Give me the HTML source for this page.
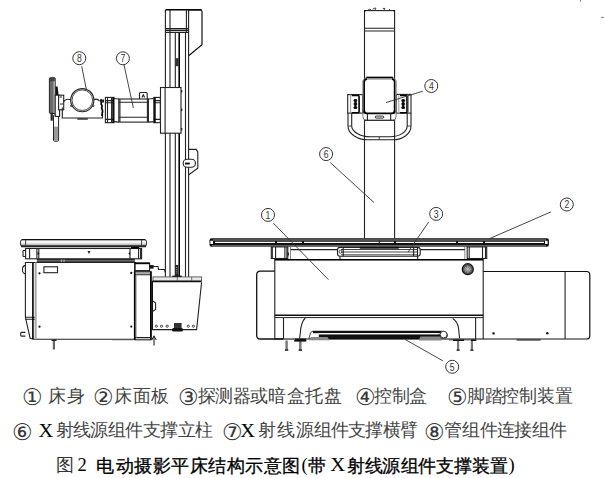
<!DOCTYPE html>
<html><head><meta charset="utf-8">
<style>
html,body{margin:0;padding:0;background:#fff;}
body{width:604px;height:478px;overflow:hidden;position:relative;}
svg{position:absolute;left:0;top:0;}
.l{fill:none;stroke:#222;stroke-width:1.1;}
.t{fill:none;stroke:#333;stroke-width:0.9;}
.k{fill:none;stroke:#000;stroke-width:1.6;}
.cap text{font-family:"Liberation Serif",serif;}
.cj{font-size:17.5px;fill:#444;}
.cj2{font-size:18px;fill:#333;}
.cd{font-size:22.5px;fill:#3a3a3a;}
.lat{font-size:18.5px;fill:#000;}
.ttl{font-size:18px;fill:#000;stroke:#000;stroke-width:0.3px;}
.num{font-family:"Liberation Sans",sans-serif;font-size:10.5px;fill:#333;text-anchor:middle;}
.lc{fill:none;stroke:#333;stroke-width:1;}
</style></head>
<body>
<svg width="604" height="478" viewBox="0 0 604 478">
<!-- ================= LEFT MACHINE (side view) ================= -->
<g id="leftcol">
  <!-- column verticals -->
  <path class="l" d="M165.4,10 V277 M170,10 V277 M175.3,32 V277 M185.5,32 V277 M188.6,10 V277"/>
  <path class="k" d="M179.2,32 V277"/>
  <!-- top housing -->
  <path class="k" d="M165.5,9.8 H201.5"/>
  <path class="l" d="M186.4,10 V32.4 M165.4,28.6 H188.6 M165.4,30.4 H188.6 M165.4,32.4 H188.6"/>
  <path d="M188.6,10 H200.5 Q202,10 202,11.5 V44.6 L189,55.5" fill="none" stroke="#111" stroke-width="1.2"/>
  <!-- slot piece -->
  <rect x="175.4" y="58.2" width="3.4" height="8" fill="#333"/>
  <!-- side bracket on column -->
  <path class="l" d="M188.6,149.4 H196.3 L197.8,152.2 V168.2 L188.8,174.8"/>
  <rect x="183.2" y="159.3" width="12.2" height="8" rx="3.8" class="l" style="fill:#fff"/>
  <rect x="185" y="162.6" width="4.8" height="1.9" fill="#111"/>
  <!-- carriage -->
  <rect x="160.5" y="87.5" width="20.5" height="45.7" class="l" style="fill:#fff"/>
  <path class="l" d="M165.1,87.5 V133.2"/>
  <rect x="181" y="90" width="1.3" height="2.5" fill="#222"/>
  <rect x="181" y="108.5" width="1.3" height="2.5" fill="#222"/>
  <rect x="181" y="128" width="1.3" height="2.5" fill="#222"/>
</g>
<g id="arm">
  <!-- left flange -->
  <rect x="105.4" y="97.4" width="8.6" height="25.3" class="l" style="fill:#fff"/>
  <path class="l" d="M107.5,97.4 V122.7 M111.6,97.4 V122.7 M105.4,100.6 H114 M105.4,102.8 H114 M105.4,119.4 H114"/>
  <path class="k" d="M113.1,97.4 V122.7"/>
  <!-- necks -->
  <path class="l" d="M114,98.5 Q116,98.5 118.8,99 M114,121.6 Q116,121.6 118.8,122.1 M148.4,99 Q151,98.5 153.8,98.5 M148.4,122.1 Q151,121.6 153.8,121.6"/>
  <!-- body -->
  <rect x="118.8" y="99" width="29.6" height="23.1" class="l" style="fill:#fff"/>
  <path class="l" d="M118.8,102.2 H148.4 M118.8,117.3 H148.4 M119.9,99 V122.1 M147.4,99 V122.1"/>
  <!-- right flange -->
  <rect x="153.8" y="97.4" width="6.5" height="25.3" class="l" style="fill:#fff"/>
  <path class="l" d="M153.8,100.6 H160.3 M153.8,102.8 H160.3 M153.8,119.4 H160.3"/>
  <path class="k" d="M154.9,97.4 V122.7"/>
  <!-- small box on top -->
  <path class="l" d="M139.5,99 V93.5 Q139.5,92.5 140.5,92.5 H146.2 Q147.2,92.5 147.2,93.5 V99"/>
  <path class="l" d="M142,97.5 L143.3,94.8 L144.6,97.5"/>
</g>
<g id="tube">
  <!-- collimator plate -->
  <rect x="49.4" y="77.7" width="5.8" height="35.8" rx="1" fill="#6a6a6a" stroke="#222" stroke-width="1"/>
  <rect x="53.4" y="79" width="1.7" height="34" fill="#aaa"/>
  <rect x="49.8" y="78" width="5" height="3.2" fill="#444"/>
  <path d="M55.4,86.4 H57.6 L58.6,95.2 H55.4 Z" fill="#111"/>
  <rect x="50.6" y="112.7" width="2.2" height="8" fill="#222"/>
  <!-- handle below -->
  <rect x="53.5" y="114.9" width="5.1" height="26.3" rx="1" fill="#fff" stroke="#222" stroke-width="1"/>
  <rect x="54" y="126.6" width="4.1" height="14" fill="#999"/>
  <!-- left block -->
  <rect x="55.2" y="95.2" width="4.4" height="21.2" class="l" style="fill:#fff"/>
  <rect x="58.6" y="95.2" width="5.1" height="14.6" class="l" style="fill:#fff"/>
  <path class="l" d="M59.6,97 H62 M60,104 H63"/>
  <!-- bracket -->
  <path class="l" d="M62.3,107.5 V118 H102.4 V113.9"/>
  <rect x="77.3" y="118" width="10.5" height="1.8" fill="#444"/>
  <!-- tube circle -->
  <circle cx="82.3" cy="100.2" r="11.6" class="l"/>
  <circle cx="82.3" cy="100.2" r="10.3" class="t"/>
  <!-- ears -->
  <path class="l" d="M63.7,101.6 Q66,98 70.6,99.8 M94,99.8 Q97,98 99.6,101.1"/>
  <circle cx="71.4" cy="105.7" r="0.9" class="t"/>
  <circle cx="93.2" cy="105.7" r="0.9" class="t"/>
  <!-- right squiggle -->
  <path class="k" d="M100.5,99.5 Q102.5,101 101,104 Q103,106 101.5,108 Q103.5,111 102,114 V116" stroke-width="1.3"/>
  <rect x="100" y="99.5" width="4" height="3" fill="#222"/>
</g>
<g id="labelsL">
  <circle cx="79.3" cy="58.2" r="6.5" class="lc"/>
  <text transform="translate(79.3,62.0) scale(0.82,1)" class="num">8</text>
  <path class="t" d="M81.7,66.2 L86.5,90.3"/>
  <circle cx="122.9" cy="58.3" r="6.5" class="lc"/>
  <text transform="translate(122.9,62.1) scale(0.82,1)" class="num">7</text>
  <path class="t" d="M124,64.9 L133.4,108"/>
</g>
<g id="leftbase">
  <defs>
    <linearGradient id="tg" x1="0" y1="0" x2="0" y2="1">
      <stop offset="0" stop-color="#fff"/><stop offset="0.45" stop-color="#f2f2f2"/><stop offset="1" stop-color="#8a8a8a"/>
    </linearGradient>
  </defs>
  <!-- table top -->
  <path d="M22.5,239.5 H144.5 Q146.7,239.5 146.7,243 Q146.7,246.6 144.5,246.6 H22.5 Q20.3,246.6 20.3,243 Q20.3,239.5 22.5,239.5 Z" fill="url(#tg)" stroke="#222" stroke-width="0.9"/>
  <path d="M21.5,239.8 H145.5" stroke="#000" stroke-width="1" fill="none"/>
  <rect x="21" y="245.3" width="125" height="1.9" fill="#222"/>
  <path class="t" d="M25.6,240 V246 M141.6,240 V246"/>
  <!-- sub frame -->
  <rect x="25.6" y="248.5" width="116" height="10.3" class="l" style="fill:#fff"/>
  <path class="k" d="M131,247.7 H139" stroke-width="1.4"/>
  <path class="l" d="M29.6,248.5 V258.8 M36.9,248.5 V258.8 M38.8,248.5 V258.8 M130,248.5 V258.8 M138.6,248.5 V258.8 M140.6,248.5 V258.8"/>
  <path class="l" d="M23,250.5 H25.6 M23,256.5 H25.6 M23,250.5 V256.5"/>
  <path d="M37.5,252 L39.5,253.5 L37.5,255 Z M130,252 L128.3,253.5 L130,255 Z" fill="#111"/>
  <path d="M87.5,251 L89,254 L90.5,251 Z" fill="#222"/>
  <!-- dark band -->
  <rect x="36.9" y="259.4" width="98" height="2.4" fill="#666"/>
  <path d="M36.9,259.4 H134.8 M36.9,261.9 H134.8" stroke="#111" stroke-width="0.9" fill="none"/>
  <path d="M61.4,259.4 V262 M64,259.4 V262" stroke="#fff" stroke-width="0.6"/>
  <!-- base body -->
  <path class="l" d="M25.4,262.5 H135.1 V339.3 H33.9" style="fill:#fff"/>
  <path class="k" d="M135.1,262 V339.5" stroke-width="1.3"/>
  <!-- left end panel -->
  <path class="l" d="M33.9,262.5 H25.4 V317.3 L30.1,338.2 L33.9,339.3"/>
  <path class="l" d="M25.4,317.3 H35.8 M25.4,319.2 H35.8"/>
  <rect x="34.6" y="262.5" width="2.1" height="76.8" fill="#aaa"/>
  <path class="k" d="M32.9,262.5 V339.3" stroke-width="1.1"/>
  <path class="l" d="M25.4,265.4 Q22.3,266 22.5,269.6 Q22.3,273.3 25.4,273.9"/>
  <path class="l" d="M25.4,332.4 H21.5 Q20.7,332.4 20.7,333.4 V335.1 Q20.7,336.1 21.5,336.1 H25.4"/>
  <!-- label rect + dots -->
  <rect x="43.9" y="266.8" width="13.6" height="5.9" class="l"/>
  <circle cx="39.5" cy="273.3" r="1.1" fill="#111"/>
  <circle cx="39.5" cy="326.7" r="1.1" fill="#111"/>
  <circle cx="131.3" cy="272.9" r="1.1" fill="#111"/>
  <circle cx="131.3" cy="326.6" r="1.1" fill="#111"/>
  <!-- small box + cable -->
  <rect x="135.1" y="263" width="14.5" height="7.6" class="l" style="fill:#fff"/>
  <path class="k" d="M135.1,263.4 H149.6" stroke-width="1.2"/>
  <rect x="149.6" y="265.1" width="4" height="3.5" fill="#111"/>
  <path class="l" d="M153,266.5 H158 L158.5,269.5 H164.5 L165.4,272.5"/>
  <!-- right end panel -->
  <rect x="134.7" y="271.5" width="16.2" height="68.3" class="l" style="fill:#fff"/>
  <rect x="135.2" y="271.8" width="15.2" height="2" fill="#999"/>
  <path class="l" d="M134.7,274.7 H150.9 M134.7,337.6 H150.9"/>
  <path d="M136.2,274.7 V337.6" stroke="#999" stroke-width="0.9"/>
  <path class="k" d="M134.7,271.5 V339.8 M150.9,271.5 V339.8" stroke-width="1.2"/>
  <!-- feet -->
  <rect x="52.8" y="340" width="2.2" height="9.5" fill="#666"/>
  <rect x="51.5" y="339.5" width="5" height="1.5" fill="#222"/>
  <path class="l" d="M154,337 V345.5"/>
  <path d="M151.8,340 L154,335.8 L156.2,340" fill="none" stroke="#111" stroke-width="1"/>
  <path d="M112,339.8 H133" stroke="#555" stroke-width="0.8"/>
  <!-- column base -->
  <rect x="153" y="276.9" width="48.6" height="4" fill="#e8e8e8" stroke="#555" stroke-width="0.9"/>
  <path d="M152,281.6 H201.6" stroke="#111" stroke-width="1.5" fill="none"/>
  <path d="M177.3,277 V281 M191.7,277 V281" stroke="#555" stroke-width="0.8" fill="none"/>
  <path class="l" d="M152.3,281 V329.6 H196.6 L201.6,282.3"/>
  <path d="M152.3,281 V329.6" stroke="#111" stroke-width="1.3" fill="none"/>
  <path class="l" d="M152.5,300.6 L155.6,303 V309.5 L152.5,311.6"/>
  <rect x="175.3" y="265" width="3" height="11" fill="#222"/>
  <path d="M176.8,267 V274" stroke="#fff" stroke-width="0.8" stroke-dasharray="1 1.2"/>
  <rect x="172.3" y="275.6" width="9.5" height="1.4" fill="#222"/>
  <circle cx="156.4" cy="326.2" r="1.1" class="t"/>
  <circle cx="161.5" cy="326.2" r="1.1" class="t"/>
  <circle cx="167.2" cy="326.2" r="1.1" class="t"/>
  <circle cx="188.3" cy="326.2" r="1.1" class="t"/>
  <circle cx="193.4" cy="326.2" r="1.1" class="t"/>
  <rect x="174" y="323" width="7.6" height="5" fill="#333"/>
  <rect x="172" y="328" width="11" height="3.5" rx="1.5" fill="#111"/>
</g>

<!-- ================= RIGHT MACHINE (front view) ================= -->
<g id="rcol">
  <path class="l" d="M364.5,10.4 V238.5 M394.6,10.4 V238.5"/>
  <path class="l" d="M364.5,10.6 H394.6" stroke-width="1.2"/>
  <path d="M364,10 H366.5 L364,12.5 Z M395,10 H392.5 L395,12.5 Z" fill="#111"/>
  <path class="l" d="M364.5,28.3 H394.6 M364.5,31 H394.6" stroke-width="1.2"/>
  <path class="t" d="M368,10 Q369.5,8.8 371,9.6 M372.5,9.6 L374,8.2 H376 L375,10 M382.8,8.4 H385 L384,10 M389,10 L390,9.2"/>
</g>
<g id="ctrl">
  <!-- handle -->
  <path class="l" d="M348,113 V126 C348,133.5 357,139.8 368,139.8 H392.7 C403,139.8 411,133.5 411,126 V113"/>
  <path class="l" d="M351.7,113 V126 C351.7,131.5 360,136.7 370.3,136.7 H390.2 C400,136.7 407.2,131.5 407.2,126 V113"/>
  <path class="t" d="M348,126 H351.7 M407.2,126 H411 M379.3,136.7 V139.8"/>
  <!-- side blocks -->
  <rect x="347.7" y="94.6" width="15" height="18.5" class="l" style="fill:#fff"/>
  <path d="M350.6,94.8 V113" stroke="#999" stroke-width="1" fill="none"/>
  <path class="k" d="M351.8,95.5 H358 Q359.1,95.5 359.1,97 V111.5 Q359.1,112.8 358,112.8 H351.8" stroke-width="1.2"/>
  <rect x="396.3" y="94.4" width="14.7" height="18.7" class="l" style="fill:#fff"/>
  <path d="M398.8,95.5 V112.5" stroke="#999" stroke-width="1" fill="none"/>
  <path class="k" d="M407,95.5 H400 M407,112.8 H400 M407,95.5 V112.8" stroke-width="1.1"/>
  <path d="M408.4,94.6 V113" stroke="#888" stroke-width="1" fill="none"/>
  <g fill="#111">
    <ellipse cx="355.4" cy="100.5" rx="1.9" ry="1.6"/><ellipse cx="355.4" cy="104" rx="1.9" ry="1.8"/><ellipse cx="355.4" cy="107.5" rx="1.9" ry="1.6"/>
    <rect x="354.4" y="99.1" width="2" height="9.9"/>
    <ellipse cx="403.2" cy="100.5" rx="1.9" ry="1.6"/><ellipse cx="403.2" cy="104" rx="1.9" ry="1.8"/><ellipse cx="403.2" cy="107.5" rx="1.9" ry="1.6"/>
    <rect x="402.2" y="99.3" width="2" height="9.5"/>
  </g>
  <!-- box -->
  <path d="M366.5,77.2 H392.8 L396.1,80.5 V116.5 Q396.1,120.3 392.5,120.3 H366.5 Q362.9,120.3 362.9,116.5 V80.5 Z" fill="#fff" stroke="#777" stroke-width="1"/>
  <path class="k" d="M366.3,77.6 H392.8" stroke-width="1.5"/>
  <path d="M366.3,79.1 H392.8" stroke="#888" stroke-width="1" fill="none"/>
  <path class="k" d="M364.2,113.4 V82 Q364.2,79.1 367,79.1 M394.6,113.4 V82 Q394.6,79.1 392,79.1" stroke-width="1.2"/>
  <path class="k" d="M364.2,110.5 Q364.2,113.4 367,113.4 H392 Q394.6,113.4 394.6,110.5" stroke-width="1.4"/>
  <path class="l" d="M367.4,113.4 V120.3 M390.7,113.4 V120.3"/>
  <path class="l" d="M365,120.3 H394.2"/>
  <rect x="375.2" y="116.1" width="8.6" height="2" rx="1" fill="#fff" stroke="#111" stroke-width="0.9"/>
</g>
<g id="rtable">
  <!-- table top -->
  <rect x="209.5" y="238.2" width="339.4" height="8.6" rx="2" fill="#111"/>
  <rect x="212" y="245.2" width="334" height="1.5" fill="#777"/>
  <path d="M213,240 H546" stroke="#ccc" stroke-width="0.7" fill="none"/>
  <path d="M215,242.4 H544" stroke="#fff" stroke-width="1.1" fill="none" stroke-dasharray="60 2 25 2 90 2"/>
  <rect x="210.4" y="240.8" width="2.6" height="3.2" fill="#fff"/>
  <rect x="545" y="240.8" width="2.6" height="3.2" fill="#fff"/>
  <path d="M379.2,240.5 V244" stroke="#111" stroke-width="0.9"/>
  <!-- blocks under table -->
  <rect x="271.3" y="246.9" width="16.5" height="11.6" class="l" style="fill:#fff"/>
  <path class="l" d="M272.3,246.9 V258.5 M275.6,246.9 V258.5 M284.9,246.9 V258.5 M286.9,246.9 V258.5"/>
  <rect x="287.6" y="252.5" width="1.3" height="3" fill="#222"/>
  <rect x="467.2" y="246.9" width="19.5" height="11.6" class="l" style="fill:#fff"/>
  <path class="l" d="M469.2,246.9 V258.5 M482.5,246.9 V258.5 M485.5,246.9 V258.5"/>
  <path d="M290.5,247 V259.8 M464.8,247 V259.8" stroke="#888" stroke-width="1" fill="none"/>
  <path class="l" d="M290.8,249.6 H464.8"/>
  <!-- tray 3 -->
  <rect x="337.5" y="247.4" width="82.7" height="8.8" rx="2.5" class="l" style="fill:#fff"/>
  <rect x="359.8" y="246.8" width="38.9" height="1.9" fill="#111"/>
  <path class="t" d="M341,249.5 H417 M341,252 H417 M341,254.8 H417"/>
  <path class="l" d="M343.2,247.4 V256.2 M413.6,247.4 V256.2 M417.5,247.4 V256.2"/>
  <circle cx="340.5" cy="251.7" r="1.5" class="t"/>
  <path class="l" d="M340,256.2 V260 M417.7,256.2 V260"/>
  <!-- body -->
  <rect x="274.8" y="259.6" width="208.4" height="79.4" class="l" style="fill:#fff"/>
  <path class="k" d="M274.8,259.8 H483.2" stroke-width="1.3"/>
  <path d="M274.8,315.2 H483.2" stroke="#111" stroke-width="1.4"/><path d="M274.8,317.6 H483.2" stroke="#222" stroke-width="1"/>
  <!-- left bump -->
  <path d="M274.8,271.2 H260.5 Q256.7,271.2 256.7,275 V335.2 Q256.7,339 260.5,339 H283.4" fill="none" stroke="#111" stroke-width="1.3"/>
  <!-- right box -->
  <path d="M483.2,271.5 H586.5 Q589.8,271.5 589.8,274.8 V335.7 Q589.8,339 586.5,339 H483.2" fill="none" stroke="#111" stroke-width="1.2"/>
  <path class="l" d="M565.1,271.5 V339"/>
  <rect x="492.4" y="332.3" width="2.2" height="2.2" fill="#111"/>
  <circle cx="547.3" cy="333.3" r="1.2" fill="#111"/>
  <rect x="516.6" y="339.3" width="24" height="1.3" fill="#333"/>
  <!-- knob -->
  <circle cx="467.8" cy="269.2" r="5.5" fill="#555" stroke="#111" stroke-width="1.2"/>
  <circle cx="467.8" cy="269.2" r="3.2" fill="#777"/>
  <path d="M465,267 L470.5,271.5 M470.5,267 L465,271.5 M467.8,265.5 V273 M464,269.2 H471.6" stroke="#ccc" stroke-width="0.6"/>
  <!-- lower details -->
  <path class="l" d="M283.5,318 V339.5 M475.6,318 V339"/>
  <path class="l" d="M305.3,318 Q301,322 300.3,333 L299.6,338.4"/>
  <path class="l" d="M452.7,318.4 Q457.3,321 458.5,328 L459.6,338.4"/>
  <!-- pedal 5 -->
  <path d="M308.9,338.4 L310.5,333 Q311.3,331.2 313,331.2 H441 Q444,331 446.5,333 Q448.3,335 447,337.2 Q445.5,338.6 443,338.4 Z" fill="#fff" stroke="#333" stroke-width="0.9"/>
  <rect x="313" y="331" width="128" height="2.2" fill="#111"/>
  <rect x="318.8" y="334.3" width="122" height="4.9" fill="#111"/>
  <path d="M318.8,333.7 H438" stroke="#fff" stroke-width="1" fill="none"/>
  <path d="M309,340.3 L311,336.9 H327.5 L329.5,340.3 Z" fill="#888"/>
  <path d="M419,339.4 L420.5,336.5 H440 L441.7,340.4 H419 Z" fill="#888"/>
  <circle cx="443.6" cy="334.6" r="3.4" fill="#fff" stroke="#222" stroke-width="0.9"/>
  <rect x="295" y="338.6" width="11" height="2.2" fill="#111"/>
  <rect x="449" y="339.2" width="27" height="1.2" fill="#555"/>
  <!-- legs -->
  <g fill="#777">
    <rect x="285.4" y="340.5" width="2.4" height="10"/><rect x="299.1" y="340.5" width="2.4" height="10"/>
    <rect x="457" y="340.5" width="2.2" height="10"/><rect x="470.8" y="340.5" width="2.2" height="10"/>
  </g>
  <g fill="#111">
    <rect x="283.4" y="339" width="11" height="1" fill="#777"/><rect x="294.3" y="339.8" width="12" height="1.8"/>
    <rect x="453" y="339.5" width="11" height="1.5"/><rect x="471" y="339.5" width="5.4" height="1.5"/>
    <rect x="284.9" y="349.4" width="3.4" height="1.3"/><rect x="298.6" y="349.4" width="3.4" height="1.3"/>
    <rect x="456.5" y="349.5" width="3.2" height="1.2"/><rect x="470.3" y="349.5" width="3.2" height="1.2"/>
  </g>
</g>
<g id="labelsR">
  <circle cx="268" cy="214.9" r="6.5" class="lc"/>
  <text transform="translate(268,218.7) scale(0.82,1)" class="num">1</text>
  <path class="t" d="M273.3,223.1 L328.4,279.6"/>
  <circle cx="566.8" cy="204.5" r="6.5" class="lc"/>
  <text transform="translate(566.8,208.3) scale(0.82,1)" class="num">2</text>
  <path class="t" d="M550.9,211.9 L488.9,238.9"/>
  <circle cx="436.2" cy="213.9" r="6.5" class="lc"/>
  <text transform="translate(436.2,217.7) scale(0.82,1)" class="num">3</text>
  <path class="t" d="M428.8,221.9 L408,252.1"/>
  <circle cx="431.3" cy="86" r="6.5" class="lc"/>
  <text transform="translate(431.3,89.8) scale(0.82,1)" class="num">4</text>
  <path class="t" d="M422.8,91.2 L386,102.6"/>
  <circle cx="452.2" cy="366.8" r="6.5" class="lc"/>
  <text transform="translate(452.2,370.6) scale(0.82,1)" class="num">5</text>
  <path class="t" d="M443,360.9 L405,339.4"/>
  <circle cx="326.1" cy="154.1" r="6.5" class="lc"/>
  <text transform="translate(326.1,157.9) scale(0.82,1)" class="num">6</text>
  <path class="t" d="M330.3,162.6 L373.9,202.4"/>
</g>

<path d="M580.5,0 V1.8 M601,17.4 H604" stroke="#777" stroke-width="0.9"/>
<!-- ================= CAPTION ================= -->
<g class="cap">
<text class="cd" y="405"><tspan x="21.7">①</tspan><tspan x="93.4">②</tspan><tspan x="177.9">③</tspan><tspan x="354.7">④</tspan><tspan x="446.6">⑤</tspan></text>
<text class="cd" y="440"><tspan x="11.6">⑥</tspan><tspan x="222.2">⑦</tspan><tspan x="424.3">⑧</tspan></text>
<text class="cj" y="402">
  <tspan x="48">床</tspan><tspan x="66.5">身</tspan>
  <tspan x="113.5">床</tspan><tspan x="132.5">面</tspan><tspan x="150.5">板</tspan>
  <tspan x="197.5">探</tspan><tspan x="215">测</tspan><tspan x="232.5">器</tspan><tspan x="250">或</tspan><tspan x="268">暗</tspan><tspan x="286.5">盒</tspan><tspan x="305">托</tspan><tspan x="324">盘</tspan>
  <tspan x="374">控</tspan><tspan x="391.5">制</tspan><tspan x="409">盒</tspan>
  <tspan x="467">脚</tspan><tspan x="484.5">踏</tspan><tspan x="501">控</tspan><tspan x="518.5">制</tspan><tspan x="537">装</tspan><tspan x="555">置</tspan>
</text>
<text class="lat" transform="translate(38.5,437.3) scale(1.1,1)">X</text><text class="lat" transform="translate(240.2,437.3) scale(1.1,1)">X</text>
<text class="cj" y="436">
  <tspan x="55.5">射</tspan><tspan x="73">线</tspan><tspan x="90">源</tspan><tspan x="108">组</tspan><tspan x="125">件</tspan><tspan x="142.5">支</tspan><tspan x="159.5">撑</tspan><tspan x="177.5">立</tspan><tspan x="194.5">柱</tspan>
  <tspan x="258">射</tspan><tspan x="276.5">线</tspan><tspan x="295.5">源</tspan><tspan x="313.5">组</tspan><tspan x="330.5">件</tspan><tspan x="348">支</tspan><tspan x="365">撑</tspan><tspan x="383">横</tspan><tspan x="400">臂</tspan>
  <tspan x="443.5">管</tspan><tspan x="462">组</tspan><tspan x="479.5">件</tspan><tspan x="497">连</tspan><tspan x="514">接</tspan><tspan x="532">组</tspan><tspan x="549">件</tspan>
</text>
<text class="cj2" y="471"><tspan x="55.5">图</tspan></text>
<text class="lat" y="471"><tspan x="77.5">2</tspan><tspan x="301.6">(</tspan><tspan x="508.5">)</tspan></text><text class="lat" transform="translate(330.2,471) scale(1.12,1)">X</text>
<text class="ttl" y="471.5">
  <tspan x="96">电</tspan><tspan x="115.5">动</tspan><tspan x="134">摄</tspan><tspan x="152.5">影</tspan><tspan x="171">平</tspan><tspan x="189.5">床</tspan><tspan x="208">结</tspan><tspan x="226.5">构</tspan><tspan x="245">示</tspan><tspan x="263.5">意</tspan><tspan x="281.5">图</tspan><tspan x="307.6">带</tspan>
  <tspan x="347">射</tspan><tspan x="364.5">线</tspan><tspan x="382">源</tspan><tspan x="400.5">组</tspan><tspan x="418">件</tspan><tspan x="436">支</tspan><tspan x="453.5">撑</tspan><tspan x="472">装</tspan><tspan x="490">置</tspan>
</text>
</g>
</svg>
</body></html>
